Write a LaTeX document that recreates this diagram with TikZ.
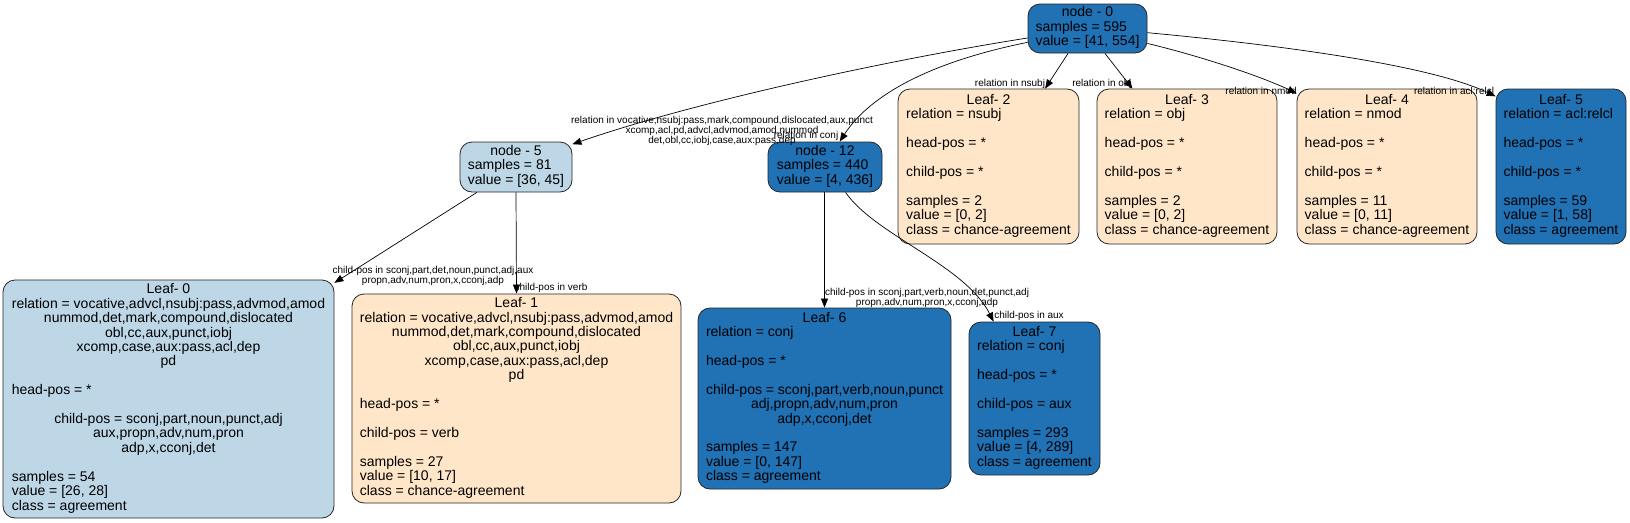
\documentclass[tikz,border=0pt]{standalone}
\usepackage{fontspec}
\setmainfont{Liberation Sans}
\usetikzlibrary{arrows.meta}
\definecolor{dblue}{HTML}{2171B5}
\definecolor{lblue}{HTML}{BDD7E7}
\definecolor{beige}{HTML}{FFE6C8}
\newcommand{\lf}[1]{\multicolumn{1}{@{}l@{}}{#1}}
\newcommand{\blk}[1]{\begin{tabular}{@{}c@{}}#1\end{tabular}}
\tikzset{
  box/.style={draw=black!85, line width=0.8pt, rounded corners=12pt, inner sep=0pt,
    font=\fontsize{14}{14.35}\selectfont},
  edge/.style={draw, line width=0.7pt, -{Triangle[length=9pt,width=7pt]}},
  lab/.style={font=\fontsize{10}{10}\selectfont, align=center, inner sep=0pt}
}
\begin{document}
\begin{tikzpicture}[x=1pt,y=-1pt]
\useasboundingbox (0,0) rectangle (1630,522);
% nodes
\node[box, fill=dblue, minimum width=119pt, minimum height=49pt] (root) at (1087.5,28.5)
  {\blk{node - 0\\ \lf{samples = 595}\\ \lf{value = [41, 554]}}};
\node[box, fill=lblue, minimum width=112pt, minimum height=50pt] (n5) at (516,167)
  {\blk{node - 5\\ \lf{samples = 81}\\ \lf{value = [36, 45]}}};
\node[box, fill=dblue, minimum width=114pt, minimum height=50pt] (n12) at (825,167)
  {\blk{node - 12\\ \lf{samples = 440}\\ \lf{value = [4, 436]}}};
\node[box, fill=beige, minimum width=181pt, minimum height=155pt] (L2) at (988.5,166.5)
  {\blk{Leaf- 2\\ \lf{relation = nsubj}\\ \\ \lf{head-pos = *}\\ \\ \lf{child-pos = *}\\ \\ \lf{samples = 2}\\ \lf{value = [0, 2]}\\ \lf{class = chance-agreement}}};
\node[box, fill=beige, minimum width=180pt, minimum height=155pt] (L3) at (1187,166.5)
  {\blk{Leaf- 3\\ \lf{relation = obj}\\ \\ \lf{head-pos = *}\\ \\ \lf{child-pos = *}\\ \\ \lf{samples = 2}\\ \lf{value = [0, 2]}\\ \lf{class = chance-agreement}}};
\node[box, fill=beige, minimum width=180pt, minimum height=155pt] (L4) at (1387,166.5)
  {\blk{Leaf- 4\\ \lf{relation = nmod}\\ \\ \lf{head-pos = *}\\ \\ \lf{child-pos = *}\\ \\ \lf{samples = 11}\\ \lf{value = [0, 11]}\\ \lf{class = chance-agreement}}};
\node[box, fill=dblue, minimum width=130pt, minimum height=155pt] (L5) at (1561,166.5)
  {\blk{Leaf- 5\\ \lf{relation = acl:relcl}\\ \\ \lf{head-pos = *}\\ \\ \lf{child-pos = *}\\ \\ \lf{samples = 59}\\ \lf{value = [1, 58]}\\ \lf{class = agreement}}};
\node[box, fill=lblue, minimum width=331pt, minimum height=238pt] (L0) at (168.5,399)
  {\blk{Leaf- 0\\ relation = vocative,advcl,nsubj:pass,advmod,amod\\ nummod,det,mark,compound,dislocated\\ obl,cc,aux,punct,iobj\\ xcomp,case,aux:pass,acl,dep\\ pd\\ \\ \lf{head-pos = *}\\ \\ child-pos = sconj,part,noun,punct,adj\\ aux,propn,adv,num,pron\\ adp,x,cconj,det\\ \\ \lf{samples = 54}\\ \lf{value = [26, 28]}\\ \lf{class = agreement}}};
\node[box, fill=beige, minimum width=329pt, minimum height=209pt] (L1) at (516.5,398.5)
  {\blk{Leaf- 1\\ relation = vocative,advcl,nsubj:pass,advmod,amod\\ nummod,det,mark,compound,dislocated\\ obl,cc,aux,punct,iobj\\ xcomp,case,aux:pass,acl,dep\\ pd\\ \\ \lf{head-pos = *}\\ \\ \lf{child-pos = verb}\\ \\ \lf{samples = 27}\\ \lf{value = [10, 17]}\\ \lf{class = chance-agreement}}};
\node[box, fill=dblue, minimum width=253pt, minimum height=181pt] (L6) at (824.5,398.5)
  {\blk{Leaf- 6\\ \lf{relation = conj}\\ \\ \lf{head-pos = *}\\ \\ child-pos = sconj,part,verb,noun,punct\\ adj,propn,adv,num,pron\\ adp,x,cconj,det\\ \\ \lf{samples = 147}\\ \lf{value = [0, 147]}\\ \lf{class = agreement}}};
\node[box, fill=dblue, minimum width=131pt, minimum height=153pt] (L7) at (1034.5,398.5)
  {\blk{Leaf- 7\\ \lf{relation = conj}\\ \\ \lf{head-pos = *}\\ \\ \lf{child-pos = aux}\\ \\ \lf{samples = 293}\\ \lf{value = [4, 289]}\\ \lf{class = agreement}}};
% edges
\draw[edge] (root.189) .. controls (900,58) and (700,100) .. (n5.22);
\draw[edge] (root.193) .. controls (930,62) and (870,95) .. (n12.60);
\draw[edge] (root.232) -- (L2.54);
\draw[edge] (root.305) -- (L3.125);
\draw[edge] (root.346) .. controls (1200,56) and (1260,76) .. (L4.141);
\draw[edge] (root.356) .. controls (1280,45) and (1430,65) .. (L5.133);
\draw[edge] (n5.213) -- (L0.35);
\draw[edge] (n5.south) -- (L1.north);
\draw[edge] (n12.south -| L6.north) -- (L6.north);
\draw[edge] (n12.309) .. controls (875,235) and (965,265) .. (L7.118);
% edge labels
\node[lab] (t1) at (722,131) {relation in vocative,nsubj:pass,mark,compound,dislocated,aux,punct\\ xcomp,acl,pd,advcl,advmod,amod,nummod\\ det,obl,cc,iobj,case,aux:pass,dep};
\node[lab] (t2) at (806,136) {relation in conj};
\node[lab] (t3) at (1010,84) {relation in nsubj};
\node[lab] (t4) at (1102,84) {relation in obj};
\node[lab] (t5) at (1261,91) {relation in nmod};
\node[lab] (t6) at (1454,91) {relation in acl:relcl};
\node[lab] (t7) at (433,276) {child-pos in sconj,part,det,noun,punct,adj,aux\\ propn,adv,num,pron,x,cconj,adp};
\node[lab] (t8) at (551,288) {child-pos in verb};
\node[lab] (t9) at (927,298) {child-pos in sconj,part,verb,noun,det,punct,adj\\ propn,adv,num,pron,x,cconj,adp};
\node[lab] (t10) at (1029,316) {child-pos in aux};
\end{tikzpicture}
\end{document}
